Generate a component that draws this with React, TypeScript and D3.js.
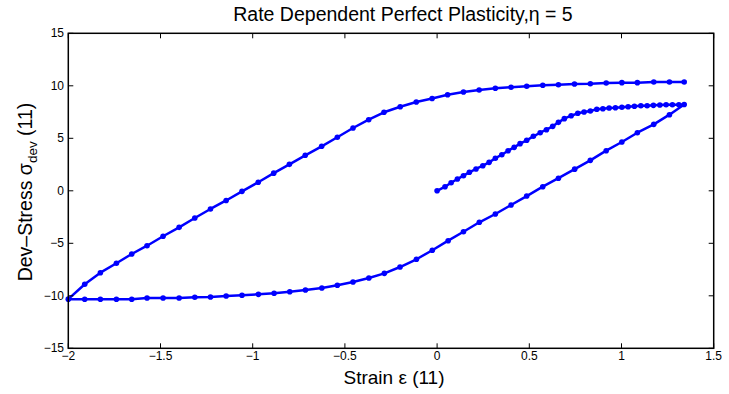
import React from "react";
import * as d3 from "d3";

const loadStrain = [0, 0.043, 0.076, 0.110, 0.143, 0.175, 0.211, 0.248, 0.282, 0.316, 0.351, 0.385, 0.418, 0.450, 0.486, 0.522, 0.559, 0.593, 0.627, 0.658, 0.690, 0.727, 0.763, 0.797, 0.831, 0.866, 0.899, 0.933, 0.967, 1.002, 1.036, 1.070, 1.105, 1.139, 1.173, 1.208, 1.242, 1.276, 1.311, 1.340];
const loadStress = [0, 0.39, 0.77, 1.12, 1.44, 1.76, 2.08, 2.39, 2.71, 3.10, 3.44, 3.82, 4.14, 4.49, 4.81, 5.19, 5.53, 5.82, 6.14, 6.52, 6.87, 7.15, 7.38, 7.50, 7.60, 7.76, 7.82, 7.89, 7.91, 7.95, 8.01, 8.05, 8.10, 8.10, 8.14, 8.17, 8.20, 8.20, 8.20, 8.22];

const unloadStrain = [1.340, 1.260, 1.175, 1.086, 1.002, 0.917, 0.831, 0.746, 0.658, 0.573, 0.486, 0.401, 0.316, 0.229, 0.143, 0.060, -0.026, -0.112, -0.201, -0.286, -0.370, -0.456, -0.541, -0.625, -0.714, -0.799, -0.884, -0.969, -1.058, -1.144, -1.229, -1.314, -1.399, -1.486, -1.573, -1.656, -1.739, -1.826, -1.911, -2.0];
const unloadStress = [8.22, 7.25, 6.33, 5.53, 4.65, 3.82, 2.90, 2.06, 1.20, 0.39, -0.50, -1.35, -2.21, -3.00, -3.90, -4.75, -5.66, -6.52, -7.26, -7.86, -8.30, -8.69, -9.00, -9.26, -9.45, -9.61, -9.76, -9.86, -9.95, -10.02, -10.11, -10.14, -10.21, -10.21, -10.21, -10.33, -10.33, -10.33, -10.33, -10.32];

const reloadStrain = [-2.0, -1.911, -1.826, -1.739, -1.656, -1.573, -1.486, -1.399, -1.314, -1.229, -1.144, -1.058, -0.970, -0.886, -0.801, -0.715, -0.626, -0.541, -0.456, -0.371, -0.288, -0.200, -0.113, -0.027, 0.057, 0.143, 0.228, 0.316, 0.401, 0.486, 0.573, 0.658, 0.745, 0.831, 0.917, 1.002, 1.086, 1.175, 1.260, 1.340];
const reloadStress = [-10.32, -8.90, -7.80, -6.90, -6.02, -5.23, -4.33, -3.48, -2.59, -1.73, -0.92, -0.05, 0.81, 1.68, 2.52, 3.38, 4.24, 5.10, 5.98, 6.77, 7.48, 8.01, 8.46, 8.79, 9.15, 9.41, 9.60, 9.76, 9.86, 9.95, 10.05, 10.10, 10.17, 10.20, 10.27, 10.30, 10.30, 10.36, 10.36, 10.36];

const xTicks = [-2, -1.5, -1, -0.5, 0, 0.5, 1, 1.5];
const yTicks = [-15, -10, -5, 0, 5, 10, 15];

const W = 729, H = 394;
const left = 68.3, right = 713.7, top = 33.3, bottom = 348.3;
const FONT = "'Liberation Sans', Arial, Helvetica, sans-serif";
const BLUE = "#0000ff";

const fmt = (v: number) => String(v).replace("-", "\u2212");

export default function App() {
  const x = d3.scaleLinear().domain([-2, 1.5]).range([left, right]);
  const y = d3.scaleLinear().domain([-15, 15]).range([bottom, top]);
  const strain = [...loadStrain, ...unloadStrain.slice(1), ...reloadStrain.slice(1)];
  const stress = [...loadStress, ...unloadStress.slice(1), ...reloadStress.slice(1)];
  const pts: [number, number][] = strain.map((s, i) => [s, stress[i]]);
  const line = d3.line<[number, number]>().x(d => x(d[0])).y(d => y(d[1]));
  const tl = 5;
  return (
    <svg width={W} height={H} style={{ position: "absolute", left: 0, top: 0, background: "#fff" }} fontFamily={FONT}>
      <rect x={0} y={0} width={W} height={H} fill="#fff" />
      <path d={line(pts) || ""} fill="none" stroke={BLUE} strokeWidth={2.5} strokeLinejoin="round" />
      {pts.map((p, i) => (
        <circle key={i} cx={x(p[0])} cy={y(p[1])} r={2.8} fill={BLUE} />
      ))}
      <rect x={left} y={top} width={right - left} height={bottom - top} fill="none" stroke="#000" strokeWidth={1.5} />
      {xTicks.map(t => (
        <g key={"x" + t}>
          <line x1={x(t)} x2={x(t)} y1={bottom} y2={bottom - tl} stroke="#000" />
          <line x1={x(t)} x2={x(t)} y1={top} y2={top + tl} stroke="#000" />
          <text x={x(t)} y={360} fontSize={12} textAnchor="middle" fill="#000">{fmt(t)}</text>
        </g>
      ))}
      {yTicks.map(t => (
        <g key={"y" + t}>
          <line x1={left} x2={left + tl} y1={y(t)} y2={y(t)} stroke="#000" />
          <line x1={right} x2={right - tl} y1={y(t)} y2={y(t)} stroke="#000" />
          <text x={64} y={y(t) + 4} fontSize={12} textAnchor="end" fill="#000">{fmt(t)}</text>
        </g>
      ))}
      <text x={403} y={21} fontSize={19.5} textAnchor="middle" fill="#000">Rate Dependent Perfect Plasticity,η = 5</text>
      <text x={394} y={384} fontSize={19} textAnchor="middle" fill="#000">Strain ε (11)</text>
      <text transform={`translate(32,192) rotate(-90)`} fontSize={19.5} textAnchor="middle" fill="#000">
        Dev–Stress σ<tspan fontSize={13.5} dy={5}>dev</tspan><tspan dy={-5}> (11)</tspan>
      </text>
    </svg>
  );
}
